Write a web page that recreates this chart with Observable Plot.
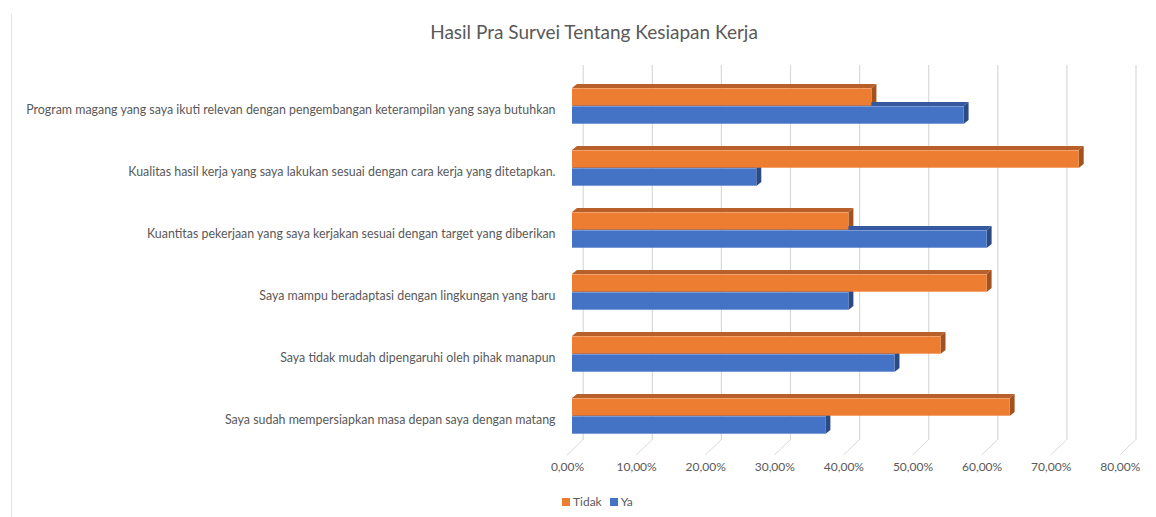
<!DOCTYPE html>
<html>
<head>
<meta charset="utf-8">
<script src="https://cdn.jsdelivr.net/npm/d3@7"></script>
<script src="https://cdn.jsdelivr.net/npm/@observablehq/plot@0.6"></script>
<style>
  html, body { margin: 0; padding: 0; background: #fff; }
  body { width: 1156px; height: 517px; position: relative; overflow: hidden; font-family: Lato, "Open Sans", sans-serif; }
  #title { padding-top: 20px; padding-left: 32px; height: 30px; line-height: 24px; font-size: 19px; color: #595959; text-align: center; }
  #legend { margin-top: 7px; padding-left: 562px; font-size: 12px; line-height: 14px; color: #595959; display: flex; align-items: center; }
  .sw { display: inline-block; width: 8px; height: 8px; margin-right: 3px; }
  .item { display: inline-flex; align-items: center; margin-right: 8px; }
  #edge { position: absolute; left: 11px; top: 14px; width: 1px; height: 503px; background: #e3e3e3; }
</style>
</head>
<body>
<div id="edge"></div>
<div id="title">Hasil Pra Survei Tentang Kesiapan Kerja</div>
<div id="chart"></div>
<div id="legend"></div>
<script>
const categories = [
  "Program magang yang saya ikuti relevan dengan pengembangan keterampilan yang saya butuhkan",
  "Kualitas hasil kerja yang saya lakukan sesuai dengan cara kerja yang ditetapkan.",
  "Kuantitas pekerjaan yang saya kerjakan sesuai dengan target yang diberikan",
  "Saya mampu beradaptasi dengan lingkungan yang baru",
  "Saya tidak mudah dipengaruhi oleh pihak manapun",
  "Saya sudah mempersiapkan masa depan saya dengan matang"
];
const tidak = [43.33, 73.33, 40.00, 60.00, 53.33, 63.33];
const ya    = [56.67, 26.67, 60.00, 40.00, 46.67, 36.67];
const xTicks = [0, 10, 20, 30, 40, 50, 60, 70, 80];
const seriesNames = ["Tidak", "Ya"];
const frontColors = ["#ED7D31", "#4472C4"];
const topColors = ["#B9602A", "#3558A0"];
const sideColors = ["#A3521F", "#2C4A84"];

const data = [];
categories.forEach((c, i) => {
  data.push({category: c, series: "Tidak", value: tidak[i] / 100});
  data.push({category: c, series: "Ya", value: ya[i] / 100});
});

const locale = d3.formatLocale({decimal: ",", thousands: ".", grouping: [3], currency: ["", ""], percent: "%"});
const fmt = locale.format(".2%");

const BAR = 18, DX = 5, DY = 4, WALL = 10.7, FLOOR_DX = -5, FLOOR_DY = 15;

// 3D depth faces (top + right side) drawn through the scales
function depthFaces(index, scales, values, dims) {
  const g = d3.create("svg:g");
  for (const d of data) {
    const yc = scales.y(d.category) + (scales.y.bandwidth ? scales.y.bandwidth() / 2 : 0);
    const si = seriesNames.indexOf(d.series);
    const y0 = si === 0 ? yc - BAR : yc;
    const y1 = y0 + BAR;
    const x0 = scales.x(0), x1 = scales.x(d.value);
    g.append("path")
      .attr("d", `M${x0},${y0}L${x0 + DX},${y0 - DY}L${x1 + DX},${y0 - DY}L${x1},${y0}Z`)
      .attr("fill", topColors[si]);
    g.append("path")
      .attr("d", `M${x1},${y0}L${x1 + DX},${y0 - DY}L${x1 + DX},${y1 - DY}L${x1},${y1}Z`)
      .attr("fill", sideColors[si]);
  }
  return g.node();
}

function floorLines(index, scales, values, dims) {
  const g = d3.create("svg:g");
  const yb = dims.height - dims.marginBottom;
  for (const t of xTicks) {
    const x = scales.x(t / 100);
    g.append("line")
      .attr("x1", x + WALL).attr("y1", yb)
      .attr("x2", x + FLOOR_DX).attr("y2", yb + FLOOR_DY)
      .attr("stroke", "#d9d9d9").attr("stroke-width", 1);
  }
  return g.node();
}

const bandH = 62.6;
const yTop = 23.2;

const chart = Plot.plot({
  width: 1156,
  height: 438,
  marginLeft: 572,
  marginRight: 31.2,
  marginTop: 15,
  marginBottom: 48,
  style: {fontFamily: "Lato, 'Open Sans', sans-serif", fontSize: "12px", color: "#595959", background: "white"},
  x: {domain: [0, 0.8]},
  y: {domain: categories, range: [yTop, yTop + bandH * categories.length], padding: 0},
  marks: [
    Plot.ruleX(xTicks, {x: d => d / 100, dx: WALL, stroke: "#d9d9d9", strokeWidth: 1.2}),
    floorLines,
    depthFaces,
    Plot.barX(data.filter(d => d.series === "Tidak"), {
      x: "value", y: "category", fill: frontColors[0],
      insetTop: bandH / 2 - BAR, insetBottom: bandH / 2
    }),
    Plot.barX(data.filter(d => d.series === "Ya"), {
      x: "value", y: "category", fill: frontColors[1],
      insetTop: bandH / 2, insetBottom: bandH / 2 - BAR
    }),
    Plot.axisX(xTicks.map(d => d / 100), {
      tickSize: 0, tickPadding: 22, dx: FLOOR_DX, tickFormat: fmt,
      fill: "#595959", fontSize: 12, label: null
    }),
    Plot.axisY({
      tickSize: 0, tickPadding: 17, dy: 4, fill: "#595959", fontSize: 12.4, label: null,
      textOverflow: null, lineWidth: Infinity
    })
  ]
});
document.getElementById("chart").appendChild(chart);

const legend = document.getElementById("legend");
seriesNames.forEach((s, i) => {
  const item = document.createElement("span");
  item.className = "item";
  const sw = document.createElement("span");
  sw.className = "sw";
  sw.style.background = frontColors[i];
  item.appendChild(sw);
  item.appendChild(document.createTextNode(s));
  legend.appendChild(item);
});
</script>
</body>
</html>
